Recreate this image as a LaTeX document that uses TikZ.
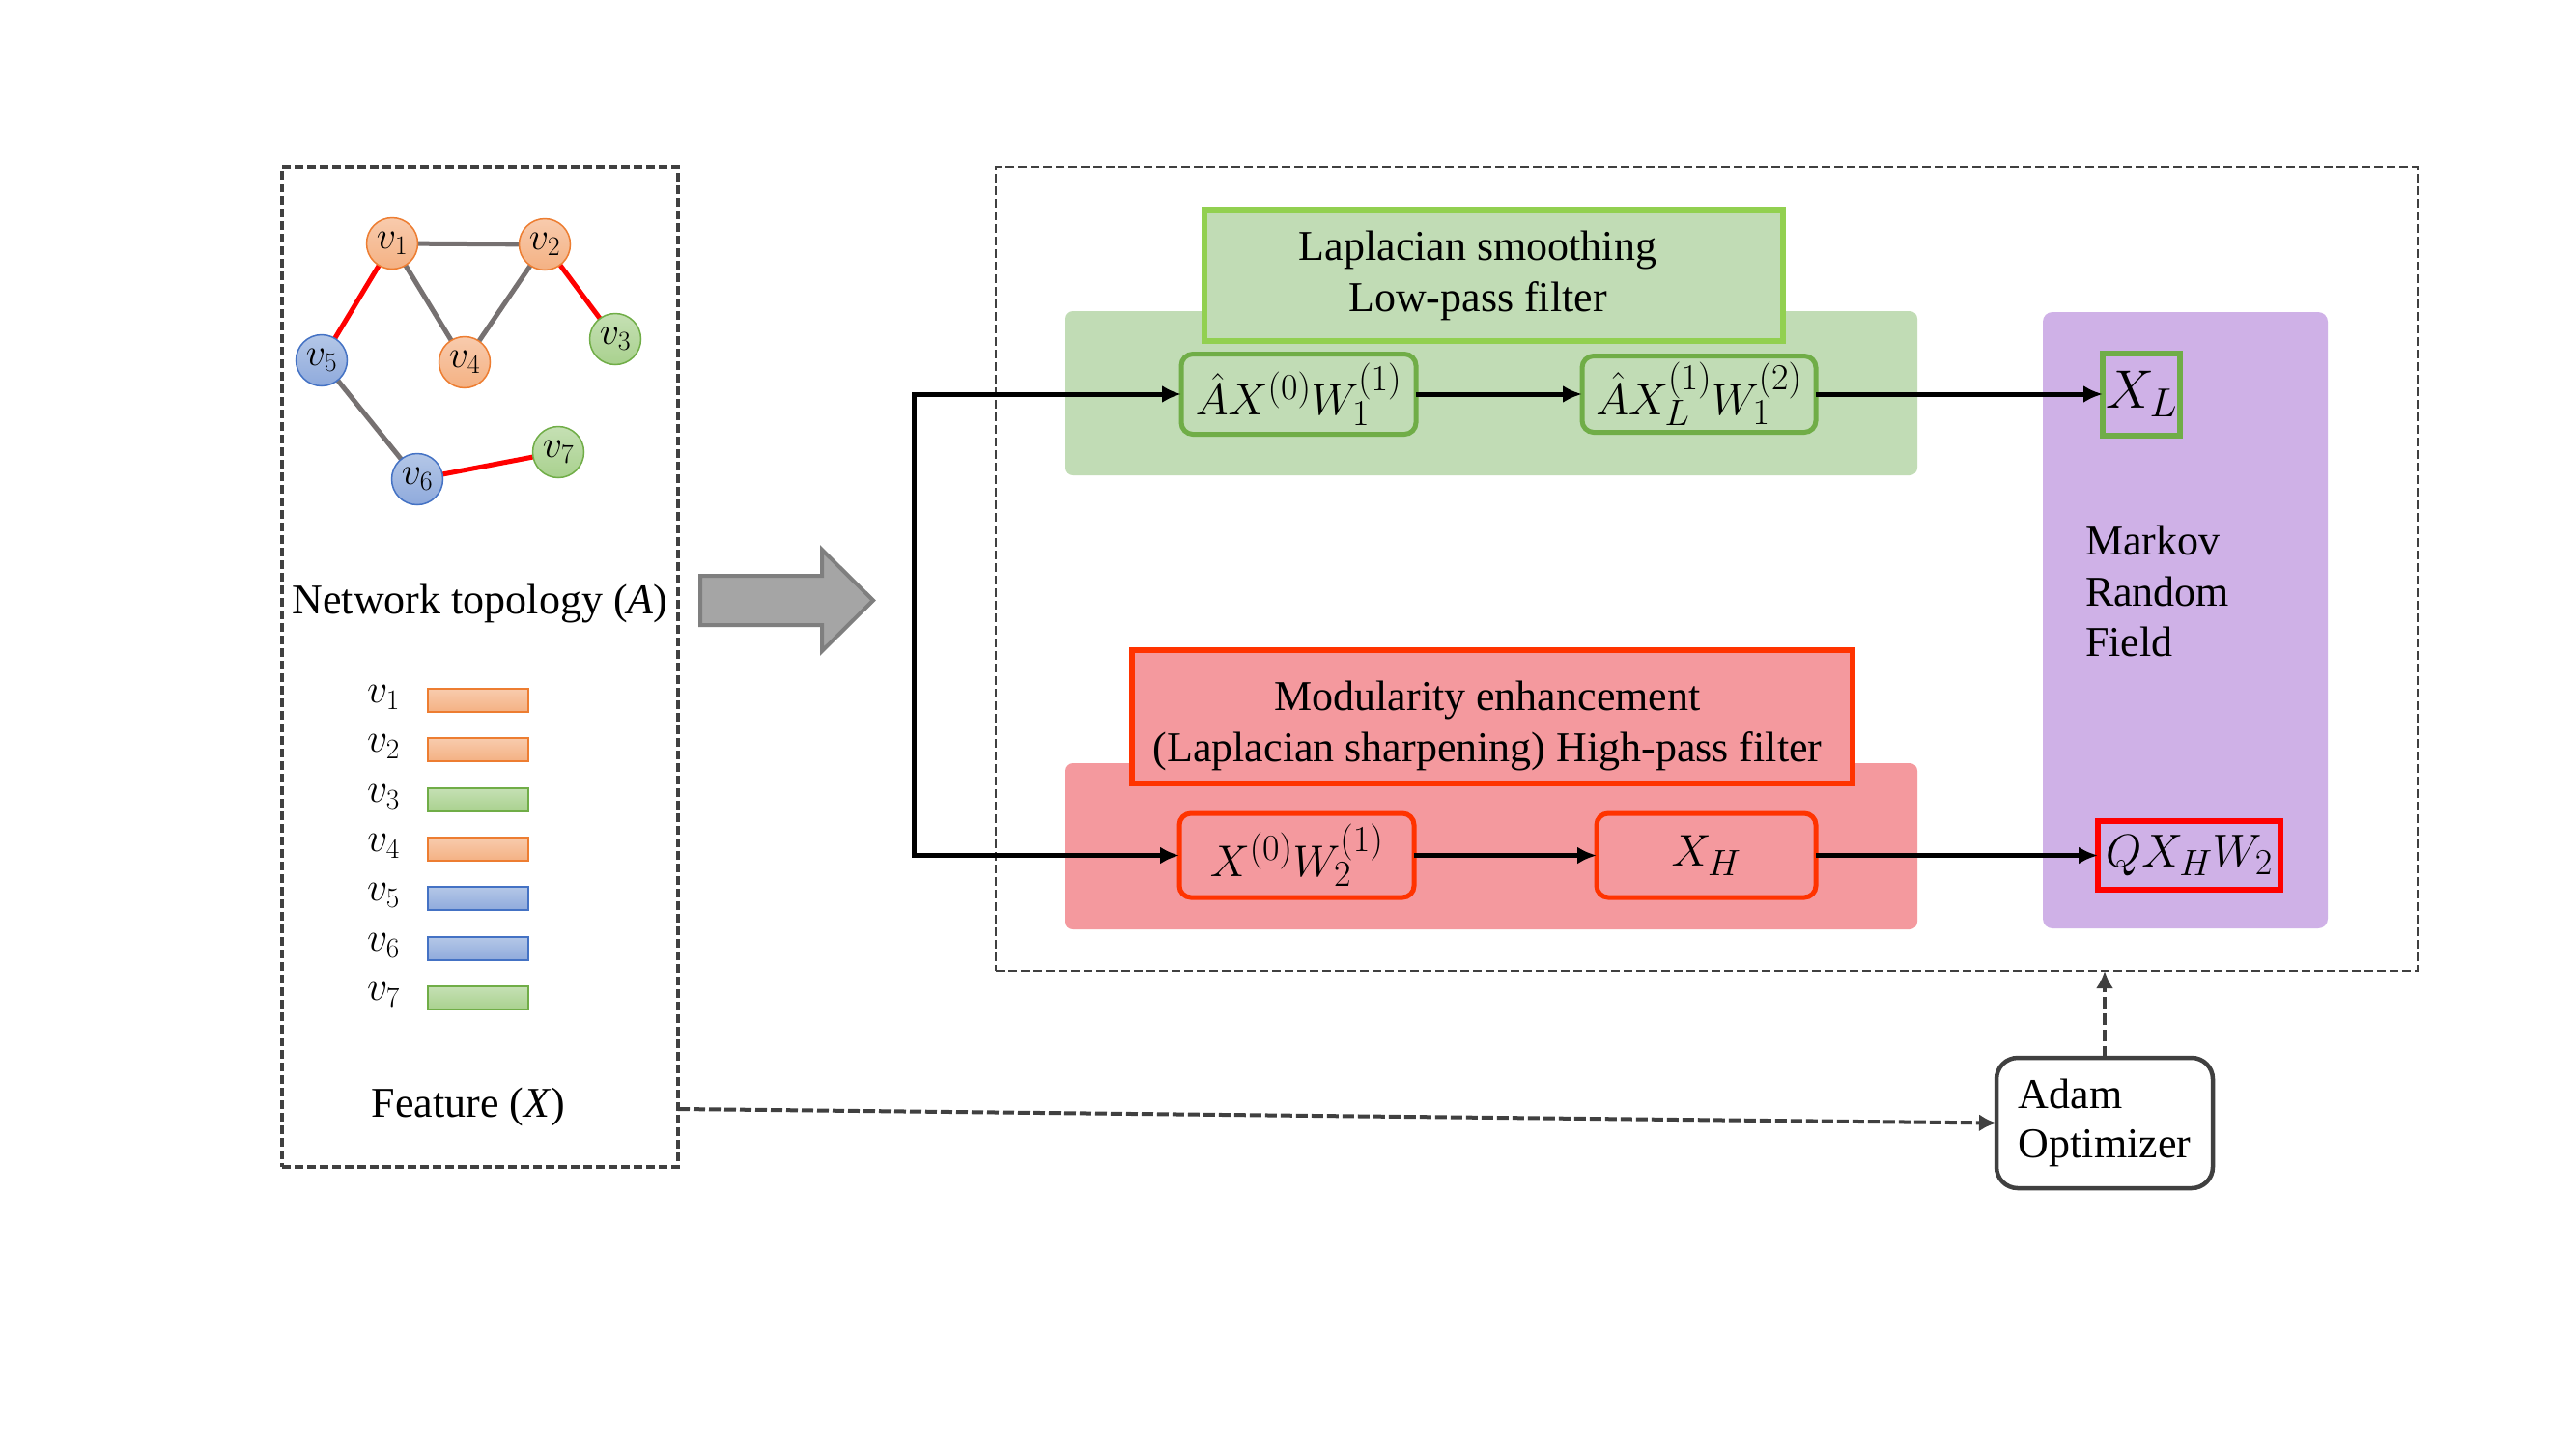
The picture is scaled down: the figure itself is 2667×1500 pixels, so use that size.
\RequirePackage{fix-cm}
\documentclass[tikz,border=0pt]{standalone}
\usepackage{fontspec}
\setmainfont{Liberation Serif}
\DeclareMathSizes{46}{46}{38}{30}
\DeclareMathSizes{48}{48}{38}{30}
\DeclareMathSizes{56}{56}{42}{32}
\usetikzlibrary{arrows.meta,backgrounds}
\definecolor{dgray}{HTML}{404040}
\definecolor{orgT}{HTML}{F8CBAD}
\definecolor{orgF}{HTML}{F4B183}
\definecolor{orgB}{HTML}{ED7D31}
\definecolor{grnT}{HTML}{C5E0B4}
\definecolor{grnF}{HTML}{A9D18E}
\definecolor{grnB}{HTML}{70AD47}
\definecolor{bluT}{HTML}{B4C7E7}
\definecolor{bluF}{HTML}{8FAADC}
\definecolor{bluB}{HTML}{4472C4}
\definecolor{edgeg}{HTML}{767171}
\definecolor{lgreen}{HTML}{C1DCB5}
\definecolor{hgreen}{HTML}{92D050}
\definecolor{lred}{HTML}{F4999E}
\definecolor{hred}{HTML}{FF3300}
\definecolor{purp}{HTML}{CFB1E7}
\definecolor{arrgray}{HTML}{A5A5A5}
\definecolor{arrbord}{HTML}{7F7F7F}
\begin{document}
\begin{tikzpicture}[x=1pt,y=-1pt,
  every node/.style={inner sep=0pt,outer sep=0pt},
  t44/.style={font=\fontsize{44}{53}\selectfont},
  dbox/.style={draw=dgray,line width=3.2pt,dash pattern=on 9pt off 4pt},
  gvert/.style={circle,minimum size=53pt,line width=1.5pt,font=\fontsize{40}{48}\selectfont},
  vor/.style={gvert,draw=orgB,top color=orgT,bottom color=orgF},
  vgr/.style={gvert,draw=grnB,top color=grnT,bottom color=grnF},
  vbl/.style={gvert,draw=bluB,top color=bluT,bottom color=bluF},
  redge/.style={draw=red,line width=5pt},
  gedge/.style={draw=edgeg,line width=5pt},
  fbar/.style={minimum width=104pt,minimum height=24pt,line width=1.5pt},
  bor/.style={fbar,draw=orgB,top color=orgT,bottom color=orgF},
  bgr/.style={fbar,draw=grnB,top color=grnT,bottom color=grnF},
  bbl/.style={fbar,draw=bluB,top color=bluT,bottom color=bluF},
  flab/.style={font=\fontsize{42}{50}\selectfont},
  gbox/.style={draw=grnB,fill=lgreen,line width=5pt,rounded corners=12pt,font=\fontsize{46}{55}\selectfont},
  rbox/.style={draw=hred,fill=lred,line width=5pt,rounded corners=12pt,font=\fontsize{46}{55}\selectfont},
  arr/.style={line width=5pt,-{Latex[length=20pt,width=18pt]}},
  darr/.style={draw=dgray,line width=4pt,dash pattern=on 12pt off 4pt,-{Latex[length=18pt,width=18pt]}},
]
\begin{pgfonlayer}{background}
\fill[white] (0,0) rectangle (2667,1500);
\end{pgfonlayer}
\useasboundingbox (0,0) rectangle (2667,1500);

% ---------- left box ----------
\node[dbox,minimum width=410pt,minimum height=1035pt] (lbox) at (497,690.5) {};

\node[vor] (v1) at (406,252) {$v_1$};
\node[vor] (v2) at (564,253) {$v_2$};
\node[vgr] (v3) at (637,351) {$v_3$};
\node[vor] (v4) at (481,375) {$v_4$};
\node[vbl] (v5) at (333,373) {$v_5$};
\node[vbl] (v6) at (432,496) {$v_6$};
\node[vgr] (v7) at (578,468) {$v_7$};
\begin{pgfonlayer}{background}
\draw[gedge] (v1) -- (v2);
\draw[gedge] (v1) -- (v4);
\draw[gedge] (v2) -- (v4);
\draw[gedge] (v5) -- (v6);
\draw[redge] (v1) -- (v5);
\draw[redge] (v2) -- (v3);
\draw[redge] (v6) -- (v7);
\end{pgfonlayer}

\node[t44,anchor=base] (ntop) at (497,635) {Network topology (\textit{A})};

\node[bor] (b1) at (495,725) {};
\node[bor] (b2) at (495,776) {};
\node[bgr] (b3) at (495,828) {};
\node[bor] (b4) at (495,879) {};
\node[bbl] (b5) at (495,930) {};
\node[bbl] (b6) at (495,982) {};
\node[bgr] (b7) at (495,1033) {};
\node[flab] (l1) at (397,722) {$v_1$};
\node[flab] (l2) at (397,773) {$v_2$};
\node[flab] (l3) at (397,825) {$v_3$};
\node[flab] (l4) at (397,876) {$v_4$};
\node[flab] (l5) at (397,927) {$v_5$};
\node[flab] (l6) at (397,979) {$v_6$};
\node[flab] (l7) at (397,1030) {$v_7$};

\node[t44,anchor=base] (feat) at (485,1156) {Feature (\textit{X})};

% ---------- big gray arrow ----------
\filldraw[fill=arrgray,draw=arrbord,line width=4pt]
  (725,596) -- (851,596) -- (851,569) -- (904,621.5) -- (851,674) -- (851,647) -- (725,647) -- cycle;

% ---------- right box ----------
\node[draw=dgray,line width=2.8pt,dash pattern=on 9pt off 4pt,minimum width=1472pt,minimum height=832pt] (rbx) at (1767,589) {};

\fill[lgreen,rounded corners=8pt] (1103,322) rectangle (1985,492);
\fill[lred,rounded corners=8pt] (1103,790) rectangle (1985,962);
\fill[purp,rounded corners=10pt] (2115,323) rectangle (2410,961);

\node[draw=hgreen,fill=lgreen,line width=6pt,minimum width=599pt,minimum height=136pt] (hg) at (1546.5,285) {};
\node[t44,align=center] (hgt) at (1530,285) {Laplacian smoothing\\Low-pass filter};

\node[draw=hred,fill=lred,line width=6pt,minimum width=746pt,minimum height=138pt] (hr) at (1545,742) {};
\node[t44,align=center] (hrt) at (1540,751) {Modularity enhancement\\(Laplacian sharpening) High-pass filter};

\node[gbox,minimum width=243pt,minimum height=83pt] (n1) at (1344.5,408) {$\hat{A}X^{(0)}W_1^{(1)}$};
\node[gbox,minimum width=242pt,minimum height=79pt] (n2) at (1759,408) {$\hat{A}X_L^{(1)}W_1^{(2)}$};
\node[rbox,minimum width=243pt,minimum height=87pt] (n3) at (1342.5,885.5) {$X^{(0)}W_2^{(1)}$};
\node[rbox,minimum width=227pt,minimum height=87pt] (n4) at (1766.5,885.5) {$X_H$};

\node[draw=grnB,line width=6pt,minimum width=80pt,minimum height=85pt,font=\fontsize{56}{64}\selectfont] (xl) at (2217,408) {$X_L$};
\node[draw=red,line width=6pt,minimum width=189pt,minimum height=71pt,font=\fontsize{48}{58}\selectfont] (q) at (2266.5,885.5) {$QX_HW_2$};

\node[t44,align=left,anchor=north west,font=\fontsize{44}{52.5}\selectfont] (mrf) at (2159,544) {Markov\\Random\\Field};

\node[draw=dgray,line width=4.5pt,rounded corners=22pt,minimum width=224pt,minimum height=135pt,align=left,font=\fontsize{44}{51}\selectfont] (adam) at (2179,1162.5) {Adam\\Optimizer};

% ---------- connectors ----------
\coordinate (bt) at (946,408);
\coordinate (bb) at (946,885.5);
\draw[line width=5pt,{Latex[length=20pt,width=18pt]}-{Latex[length=20pt,width=18pt]}] (n1.west) -- (bt) -- (bb) -- (n3.west);
\draw[arr] (n1.east) -- (n2.west);
\draw[arr] (n2.east) -- (xl.west);
\draw[arr] (n3.east) -- (n4.west);
\draw[arr] (n4.east) -- (q.west);

\coordinate (fs) at (702,1148);
\draw[darr] (fs) -- (adam.west);
\draw[darr,dash pattern=on 12pt off 5pt,line width=4.5pt] (adam.north) -- (adam.north |- rbx.south);
\end{tikzpicture}
\end{document}
